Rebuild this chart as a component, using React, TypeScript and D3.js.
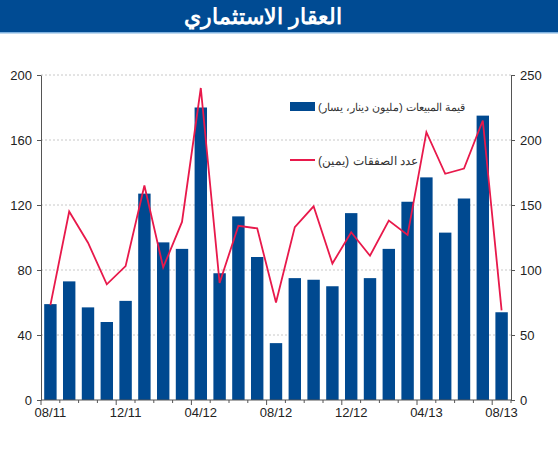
import { useEffect, useRef } from 'react'
import * as d3 from 'd3'

const title = 'العقار الاستثماري'

const months = [
  '08/11', '09/11', '10/11', '11/11', '12/11', '01/12', '02/12', '03/12', '04/12',
  '05/12', '06/12', '07/12', '08/12', '09/12', '10/12', '11/12', '12/12', '01/13',
  '02/13', '03/13', '04/13', '05/13', '06/13', '07/13', '08/13',
]

// قيمة المبيعات (مليون دينار) - left axis
const salesValue = [
  59, 73, 57, 48, 61, 127, 97, 93, 180, 78, 113, 88, 35,
  75, 74, 70, 115, 75, 93, 122, 137, 103, 124, 175, 54,
]

// عدد الصفقات - right axis
const dealsCount = [
  73, 145, 121, 89, 103, 165, 102, 137, 240, 90, 134, 132, 75,
  133, 149, 105, 129, 111, 138, 127, 206, 174, 178, 215, 69,
]

const leftTicks = [0, 40, 80, 120, 160, 200]
const rightTicks = [0, 50, 100, 150, 200, 250]
const labelMonths = ['08/11', '12/11', '04/12', '08/12', '12/12', '04/13', '08/13']

const salesLabel = 'قيمة المبيعات (مليون دينار، يسار)'
const dealsLabel = 'عدد الصفقات (يمين)'

const BAR = '#004990'
const LINE = '#e8194b'
const AXIS = '#555'
const FONT = 'Arial, "Liberation Sans", sans-serif'

export default function App() {
  const ref = useRef<SVGSVGElement>(null)

  useEffect(() => {
    if (!ref.current) return
    const svg = d3.select(ref.current)
    svg.selectAll('*').remove()

    const W = 558
    const left = 41
    const right = 511
    const top = 75
    const bottom = 400

    // title banner
    svg.append('rect').attr('x', 0).attr('y', 0).attr('width', W).attr('height', 32).attr('fill', '#004b93')
    svg.append('rect').attr('x', 0).attr('y', 32).attr('width', W).attr('height', 1.5).attr('fill', '#7fb2e0')
    svg
      .append('text')
      .attr('x', 263)
      .attr('y', 24)
      .attr('text-anchor', 'middle')
      .attr('fill', 'white')
      .attr('font-family', FONT)
      .attr('font-weight', 'bold')
      .attr('font-size', 22)
      .text(title)

    const x = d3.scaleBand<string>().domain(months).range([left, right]).paddingInner(0.34).paddingOuter(0.17)
    const yL = d3.scaleLinear().domain([0, 200]).range([bottom, top])
    const yR = d3.scaleLinear().domain([0, 250]).range([bottom, top])
    const cx = (m: string) => (x(m) ?? 0) + x.bandwidth() / 2

    // grid
    svg
      .append('g')
      .selectAll('line')
      .data(leftTicks.filter((t) => t > 0))
      .join('line')
      .attr('x1', left)
      .attr('x2', right)
      .attr('y1', (d) => yL(d))
      .attr('y2', (d) => yL(d))
      .attr('stroke', '#c8c8c8')
      .attr('stroke-dasharray', '2,2')

    // bars
    svg
      .append('g')
      .selectAll('rect')
      .data(salesValue)
      .join('rect')
      .attr('x', (_, i) => x(months[i]) ?? 0)
      .attr('width', x.bandwidth())
      .attr('y', (d) => yL(d))
      .attr('height', (d) => bottom - yL(d))
      .attr('fill', BAR)

    // line
    const line = d3
      .line<number>()
      .x((_, i) => cx(months[i]))
      .y((d) => yR(d))
    svg
      .append('path')
      .datum(dealsCount)
      .attr('fill', 'none')
      .attr('stroke', LINE)
      .attr('stroke-width', 1.8)
      .attr('stroke-linejoin', 'miter')
      .attr('d', line)

    const styleAxis = (g: d3.Selection<SVGGElement, unknown, null, undefined>) => {
      g.select('.domain').attr('stroke', AXIS)
      g.selectAll('.tick line').attr('stroke', AXIS)
      g.selectAll('.tick text').attr('fill', '#222').attr('font-size', 13).attr('font-family', FONT)
    }

    svg
      .append('g')
      .attr('transform', `translate(${left},0)`)
      .call(d3.axisLeft(yL).tickValues(leftTicks).tickSize(4).tickSizeOuter(0).tickPadding(5))
      .call(styleAxis)

    svg
      .append('g')
      .attr('transform', `translate(${right},0)`)
      .call(d3.axisRight(yR).tickValues(rightTicks).tickSize(4).tickSizeOuter(0).tickPadding(5))
      .call(styleAxis)

    // bottom axis: minor ticks at band edges, labels every 4 months
    const step = x.step()
    const edges = d3.range(months.length + 1).map((i) => left + i * step)
    const xg = svg.append('g')
    xg.append('line').attr('x1', left).attr('x2', right).attr('y1', bottom).attr('y2', bottom).attr('stroke', AXIS)
    xg.selectAll('line.tk')
      .data(edges)
      .join('line')
      .attr('class', 'tk')
      .attr('x1', (d) => d)
      .attr('x2', (d) => d)
      .attr('y1', bottom)
      .attr('y2', (_, i) => bottom + (i % 4 === 0 ? 5 : 3))
      .attr('stroke', AXIS)
    xg.selectAll('text')
      .data(labelMonths)
      .join('text')
      .attr('x', (d) => cx(d))
      .attr('y', bottom + 17)
      .attr('text-anchor', 'middle')
      .attr('fill', '#222')
      .attr('font-size', 13)
      .attr('font-family', FONT)
      .text((d) => d)

    // legend (text sized to the width it takes in the original)
    const lg = svg.append('g')
    lg.append('rect').attr('x', 290).attr('y', 102).attr('width', 25).attr('height', 9).attr('fill', BAR)
    lg.append('line').attr('x1', 290).attr('x2', 315).attr('y1', 160).attr('y2', 160).attr('stroke', LINE).attr('stroke-width', 2)
    const legendText = (label: string, y: number, targetWidth: number) => {
      const t = lg
        .append('text')
        .attr('x', 318)
        .attr('y', y)
        .attr('direction', 'rtl')
        .attr('text-anchor', 'end')
        .attr('fill', '#333')
        .attr('font-size', 12)
        .attr('font-family', FONT)
        .text(label)
      const w = (t.node() as SVGTextElement).getComputedTextLength()
      if (w > 0) t.attr('font-size', Math.min(14, (12 * targetWidth) / w))
    }
    legendText(salesLabel, 111, 158)
    legendText(dealsLabel, 165, 102)
  }, [])

  return (
    <svg
      ref={ref}
      width={558}
      height={450}
      style={{ position: 'absolute', left: 0, top: 0, background: 'white' }}
    />
  )
}
